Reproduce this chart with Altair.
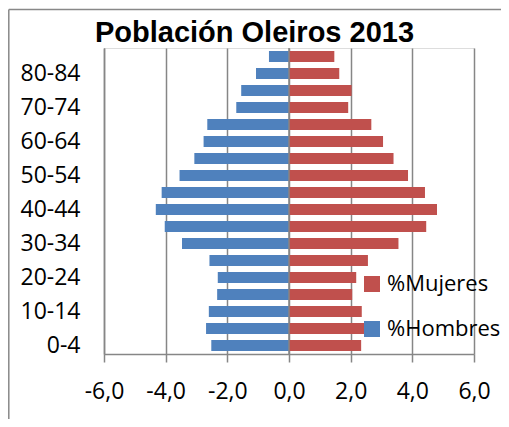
import altair as alt
import pandas as pd

ages = ["0-4", "5-9", "10-14", "15-19", "20-24", "25-29", "30-34", "35-39", "40-44",
        "45-49", "50-54", "55-59", "60-64", "65-69", "70-74", "75-79", "80-84", "85+"]
hombres = [-2.52, -2.69, -2.60, -2.33, -2.31, -2.58, -3.47, -4.03, -4.32,
           -4.13, -3.55, -3.07, -2.77, -2.65, -1.71, -1.55, -1.07, -0.65]
mujeres = [2.34, 2.48, 2.36, 2.05, 2.18, 2.56, 3.55, 4.45, 4.80,
           4.41, 3.86, 3.39, 3.05, 2.67, 1.92, 2.03, 1.63, 1.47]
series = ["%Mujeres", "%Hombres"]
colors = ["#C0504D", "#4F81BD"]
x_ticks = [-6, -4, -2, 0, 2, 4, 6]
y_labels = ages[::2]
title_text = "Población Oleiros 2013"

rows = []
for a, h, m in zip(ages, hombres, mujeres):
    rows.append({"edad": a, "sexo": "%Hombres", "valor": h})
    rows.append({"edad": a, "sexo": "%Mujeres", "valor": m})
df = pd.DataFrame(rows)

FONT = "Open Sans"
GRID = "#868686"

y_enc = alt.Y("edad:N", sort=list(reversed(ages)),
              scale=alt.Scale(paddingInner=0.35, paddingOuter=0.175),
              axis=alt.Axis(values=y_labels, title=None, ticks=False, labelFont=FONT,
                            labelFontSize=23, labelColor="black", labelPadding=24,
                            domainColor=GRID, domainWidth=1.5, grid=False))

bars = alt.Chart(df).mark_bar().encode(
    x=alt.X("valor:Q", scale=alt.Scale(domain=[-6, 6], nice=False),
            axis=alt.Axis(values=x_ticks, title=None,
                          labelExpr="(datum.value < 0 ? '-' : '') + replace(format(abs(datum.value), '.1f'), '.', ',')",
                          labelOverlap=False, labelFlush=False,
                          labelFont=FONT, labelFontSize=23, labelColor="black",
                          labelPadding=18, tickSize=8, tickColor=GRID, tickWidth=1.5,
                          domainColor=GRID, domainWidth=1.5, grid=True,
                          gridColor=GRID, gridWidth=1.5)),
    y=y_enc,
    color=alt.Color("sexo:N", scale=alt.Scale(domain=series, range=colors),
                    legend=alt.Legend(title=None, orient="none", legendX=257, legendY=225,
                                      symbolType="square", symbolSize=256,
                                      symbolStrokeWidth=0, symbolOpacity=1,
                                      labelFont=FONT, labelFontSize=22, labelLimit=0,
                                      labelColor="black", labelOffset=4,
                                      rowPadding=23, padding=0)),
)

zero = alt.Chart(alt.Data(values=[{}])).mark_rule(color=GRID, strokeWidth=1.5).encode(
    x=alt.datum(0), y=alt.value(0), y2=alt.value(306))

one = alt.Data(values=[{}])
border_left = alt.Chart(one).mark_rule(color="#888888", strokeWidth=1.5).encode(
    x=alt.value(-95.2), y=alt.value(-38.5), y2=alt.value(371))
border_top = alt.Chart(one).mark_rule(color="#888888", strokeWidth=1.5).encode(
    x=alt.value(-95.2), x2=alt.value(397), y=alt.value(-38.5))

title = alt.Chart(alt.Data(values=[{"t": title_text}])).mark_text(
    font="Liberation Sans", fontSize=29, fontWeight="bold", color="black",
    align="center", baseline="alphabetic").encode(
    text="t:N", x=alt.value(150.5), y=alt.value(-6.5))

chart = alt.layer(border_left, border_top, bars, zero, title).properties(
    width=370, height=306,
    autosize=alt.AutoSizeParams(type="none"),
    padding={"left": 96, "top": 40, "right": 27, "bottom": 65},
).configure_view(stroke=None).configure(background="white")

chart.save("out.html", embed_options={"renderer": "svg", "actions": False})
